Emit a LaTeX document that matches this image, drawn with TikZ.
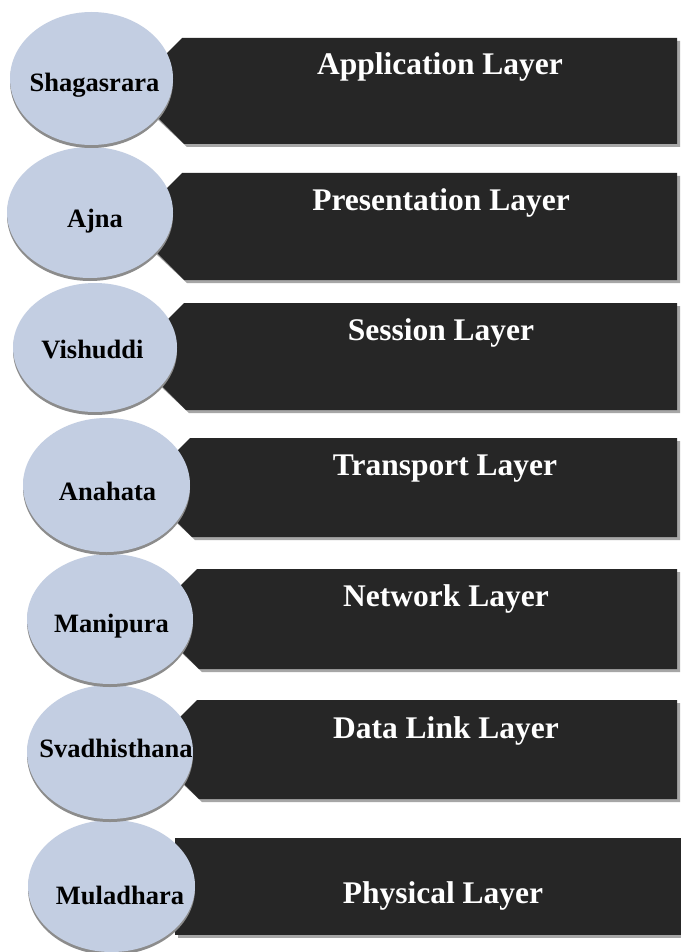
\documentclass[tikz,border=0pt]{standalone}
\usepackage{fontspec}
\setmainfont{Liberation Serif}
\usetikzlibrary{shapes.geometric}
\definecolor{chakrafill}{HTML}{C3CEE2}
\definecolor{boxfill}{HTML}{262626}
\definecolor{shadowgray}{HTML}{A6A6A6}
\definecolor{rimgray}{HTML}{8C8C8C}
\newcommand\chamferbox[3]{% #1 = start x of top edge, #2 = top, #3 = bottom
  \fill[shadowgray] ({#1+3},{#2+3}) -- (680,{#2+3}) -- (680,{#3+3}) -- ({#1+5},{#3+3}) -- ({#1-27},{#3-27}) -- ({#1-27},{#2+33}) -- cycle;
  \fill[boxfill] (#1,#2) -- (677,#2) -- (677,#3) -- ({#1+2},#3) -- ({#1-30},{#3-32}) -- ({#1-30},{#2+30}) -- cycle;
}
\begin{document}
\begin{tikzpicture}[x=1pt,y=-1pt,
  chakra/.style={ellipse, fill=chakrafill, inner sep=0pt,
    preaction={fill=rimgray, transform canvas={yshift=-3pt}}},
  chakratext/.style={anchor=base, inner sep=0pt, text=black,
    font=\fontsize{26.5}{30}\selectfont\bfseries},
  layertext/.style={anchor=base, inner sep=0pt, text=white,
    font=\fontsize{31.5}{36}\selectfont\bfseries}]
\fill[white] (0,0) rectangle (681,952);
\useasboundingbox (0,0) rectangle (681,952);
% layer boxes
\chamferbox{182}{38}{144}
\chamferbox{182}{173}{280}
\chamferbox{184}{303}{410}
\chamferbox{190}{438}{537}
\chamferbox{197}{569}{669}
\chamferbox{197}{700}{799}
\fill[shadowgray] (178,841) rectangle (681,938);
\fill[boxfill] (175,838) rectangle (681,935);
% layer names
\node[layertext] (l1) at (440,75) {Application Layer};
\node[layertext] (l2) at (441,210.5) {Presentation Layer};
\node[layertext] (l3) at (441,340.5) {Session Layer};
\node[layertext] (l4) at (445,475.5) {Transport Layer};
\node[layertext] (l5) at (446,606.5) {Network Layer};
\node[layertext] (l6) at (446,738) {Data Link Layer};
\node[layertext] (l7) at (443,903) {Physical Layer};
% chakra ellipses, bottom to top
\node[chakra, minimum width=167pt, minimum height=132pt] (c7) at (111.5,886) {};
\node[chakra, minimum width=166pt, minimum height=134pt] (c6) at (110,752) {};
\node[chakra, minimum width=166pt, minimum height=130pt] (c5) at (110,619) {};
\node[chakra, minimum width=167pt, minimum height=134pt] (c4) at (106.5,485) {};
\node[chakra, minimum width=164pt, minimum height=129pt] (c3) at (95,347.5) {};
\node[chakra, minimum width=166pt, minimum height=131pt] (c2) at (90,212.5) {};
\node[chakra, minimum width=163pt, minimum height=133pt] (c1) at (91.5,78.5) {};
% chakra names
\node[chakratext] (n1) at (94.5,92) {Shagasrara};
\node[chakratext] (n2) at (95,227) {Ajna};
\node[chakratext] (n3) at (92.5,358) {Vishuddi};
\node[chakratext] (n4) at (107.5,500) {Anahata};
\node[chakratext] (n5) at (111.5,632) {Manipura};
\node[chakratext] (n6) at (116,757) {Svadhisthana};
\node[chakratext] (n7) at (120,904) {Muladhara};
\end{tikzpicture}
\end{document}
